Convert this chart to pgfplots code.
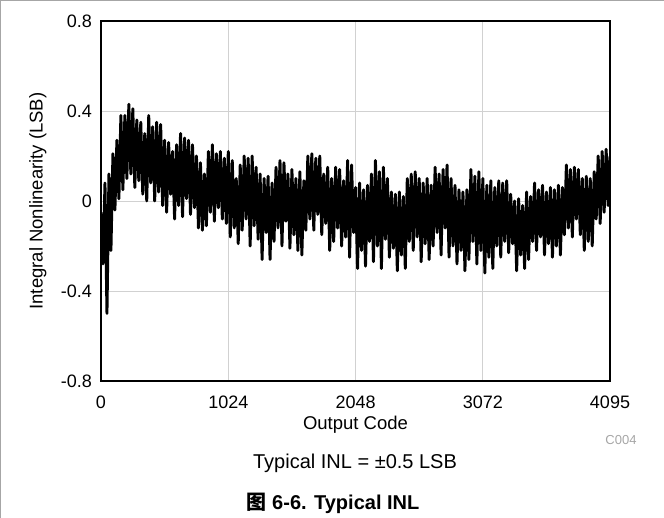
\documentclass[border=0pt]{standalone}
\usepackage{pgfplots}
\pgfplotsset{compat=1.18}
\usepackage{fontspec}
\setmainfont{Liberation Sans}
\newfontfamily\cjk{Noto Sans CJK SC}

\begin{document}
\begin{tikzpicture}
	\useasboundingbox (0pt,0pt) rectangle (664pt,518pt);
	% outer frame (top and left edges only)
	\draw[gray!70, line width=1pt] (0.5pt,0pt) -- (0.5pt,517.5pt) -- (664pt,517.5pt);

	\begin{axis}[
		at={(101pt,137pt)}, anchor=south west,
		scale only axis,
		width=509pt, height=360pt,
		xmin=0, xmax=4095,
		ymin=-0.8, ymax=0.8,
		xtick={0,1024,2048,3072,4095},
		xticklabels={0,1024,2048,3072,4095},
		ytick={-0.8,-0.4,0,0.4,0.8},
		yticklabels={-0.8,-0.4,0,0.4,0.8},
		major tick length=0pt,
		grid=major,
		major grid style={black!18, line width=0.9pt},
		axis line style={line width=2.8pt},
		tick label style={font=\fontsize{18}{20}\selectfont, inner sep=0pt},
		xticklabel style={anchor=center, yshift=-21pt},
		yticklabel style={anchor=east, xshift=-9pt},
		xlabel={Output Code},
		ylabel={Integral Nonlinearity (LSB)},
		label style={font=\fontsize{18.5}{21}\selectfont},
		xlabel style={at={(axis description cs:0.5,-0.122)}, anchor=center},
		ylabel style={at={(axis description cs:-0.124,0.5)}, anchor=center},
		clip=true,
		]
		\addplot[black, line width=2.9pt, line join=round] coordinates {
			(0,-0.05)(16,-0.28)(32,0.08)(48,-0.50)(64,0.12)(80,-0.22)(96,0.21)(112,-0.04)
			(128,0.27)(144,0.01)(160,0.38)(176,0.05)(192,0.38)(208,0.10)(224,0.43)(240,0.12)
			(256,0.41)(272,0.06)(288,0.36)(304,0.09)(320,0.35)(336,0.03)(352,0.30)(368,0.00)
			(384,0.38)(400,0.08)(416,0.33)(432,0.00)(448,0.35)(464,0.04)(480,0.34)(496,-0.02)
			(512,0.27)(528,-0.05)(544,0.26)(560,0.03)(576,0.22)(592,-0.08)(608,0.25)(624,-0.02)
			(640,0.30)(656,-0.07)(672,0.28)(688,0.01)(704,0.27)(720,-0.06)(736,0.25)(752,-0.03)
			(768,0.20)(784,-0.12)(800,0.17)(816,-0.13)(832,0.12)(848,-0.11)(864,0.22)(880,-0.05)
			(896,0.25)(912,-0.09)(928,0.21)(944,-0.03)(960,0.22)(976,-0.08)(992,0.19)(1008,-0.10)
			(1024,0.22)(1040,-0.16)(1056,0.18)(1072,-0.12)(1088,0.10)(1104,-0.19)(1120,0.16)(1136,-0.13)
			(1152,0.20)(1168,-0.08)(1184,0.19)(1200,-0.20)(1216,0.20)(1232,-0.11)(1248,0.15)(1264,-0.17)
			(1280,0.12)(1296,-0.26)(1312,0.10)(1328,-0.14)(1344,0.11)(1360,-0.26)(1376,0.08)(1392,-0.18)
			(1408,0.15)(1424,-0.12)(1440,0.18)(1456,-0.20)(1472,0.17)(1488,-0.09)(1504,0.12)(1520,-0.21)
			(1536,0.14)(1552,-0.15)(1568,0.10)(1584,-0.22)(1600,0.13)(1616,-0.24)(1632,0.09)(1648,-0.13)
			(1664,0.20)(1680,-0.08)(1696,0.21)(1712,-0.13)(1728,0.19)(1744,-0.06)(1760,0.20)(1776,-0.15)
			(1792,0.12)(1808,-0.10)(1824,0.15)(1840,-0.22)(1856,0.10)(1872,-0.18)(1888,0.15)(1904,-0.12)
			(1920,0.14)(1936,-0.20)(1952,0.09)(1968,-0.16)(1984,0.18)(2000,-0.25)(2016,0.16)(2032,-0.14)
			(2048,0.06)(2064,-0.30)(2080,0.08)(2096,-0.22)(2112,0.05)(2128,-0.29)(2144,0.07)(2160,-0.18)
			(2176,0.12)(2192,-0.27)(2208,0.18)(2224,-0.20)(2240,0.13)(2256,-0.30)(2272,0.15)(2288,-0.17)
			(2304,0.10)(2320,-0.25)(2336,0.04)(2352,-0.21)(2368,0.03)(2384,-0.31)(2400,0.04)(2416,-0.24)
			(2432,0.02)(2448,-0.30)(2464,0.10)(2480,-0.18)(2496,0.12)(2512,-0.22)(2528,0.13)(2544,-0.16)
			(2560,0.10)(2576,-0.27)(2592,0.08)(2608,-0.19)(2624,0.10)(2640,-0.26)(2656,0.07)(2672,-0.20)
			(2688,0.15)(2704,-0.14)(2720,0.12)(2736,-0.24)(2752,0.14)(2768,-0.12)(2784,0.16)(2800,-0.25)
			(2816,0.10)(2832,-0.20)(2848,0.07)(2864,-0.28)(2880,0.05)(2896,-0.22)(2912,0.04)(2928,-0.31)
			(2944,0.05)(2960,-0.26)(2976,0.14)(2992,-0.18)(3008,0.11)(3024,-0.28)(3040,0.13)(3056,-0.22)
			(3072,0.10)(3088,-0.32)(3104,0.07)(3120,-0.25)(3136,0.09)(3152,-0.30)(3168,0.06)(3184,-0.20)
			(3200,0.09)(3216,-0.25)(3232,0.08)(3248,-0.18)(3264,0.09)(3280,-0.23)(3296,0.03)(3312,-0.19)
			(3328,0.00)(3344,-0.31)(3360,0.01)(3376,-0.24)(3392,-0.02)(3408,-0.30)(3424,0.04)(3440,-0.26)
			(3456,0.02)(3472,-0.18)(3488,0.08)(3504,-0.22)(3520,0.05)(3536,-0.16)(3552,0.07)(3568,-0.24)
			(3584,0.04)(3600,-0.19)(3616,0.06)(3632,-0.25)(3648,0.05)(3664,-0.20)(3680,0.07)(3696,-0.24)
			(3712,0.06)(3728,-0.15)(3744,0.16)(3760,-0.12)(3776,0.14)(3792,-0.16)(3808,0.15)(3824,-0.08)
			(3840,0.14)(3856,-0.15)(3872,0.10)(3888,-0.22)(3904,0.11)(3920,-0.18)(3936,0.10)(3952,-0.20)
			(3968,0.13)(3984,-0.08)(4000,0.20)(4016,-0.10)(4032,0.22)(4048,-0.05)(4064,0.23)(4080,-0.02)
			(4095,0.20)
		};
	\end{axis}

	\node[text=black!35, font=\fontsize{13}{15}\selectfont] at (621pt,78pt) {C004};
	\node[font=\fontsize{20}{23}\selectfont] at (355pt,55pt) {Typical INL = ±0.5 LSB};
	\node[font=\fontsize{20}{23}\selectfont\bfseries] at (333pt,15pt) {{\cjk 图} 6-6. Typical INL};
\end{tikzpicture}
\end{document}
